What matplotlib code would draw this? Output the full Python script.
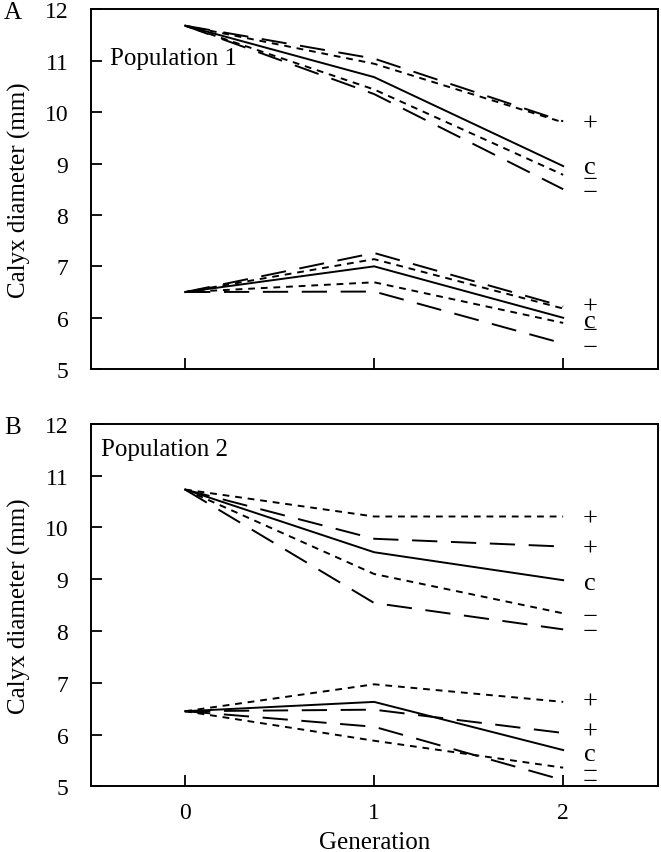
import matplotlib
matplotlib.use('Agg')
import matplotlib.pyplot as plt

plt.rcParams['font.family'] = ['Liberation Serif', 'DejaVu Serif']

generation = [0, 1, 2]

# Population 1 - upper trait group
p1_hi = {
    'up_long': [11.68, 11.04, 9.82],
    'up_short': [11.68, 10.94, 9.80],
    'control': [11.68, 10.68, 8.95],
    'down_short': [11.68, 10.44, 8.78],
    'down_long': [11.68, 10.35, 8.50],
}
# Population 1 - lower trait group
p1_lo = {
    'up_long': [6.50, 7.26, 6.22],
    'up_short': [6.50, 7.14, 6.18],
    'control': [6.50, 7.00, 6.00],
    'down_short': [6.50, 6.69, 5.90],
    'down_long': [6.50, 6.51, 5.50],
}
# Population 2 - upper trait group
p2_hi = {
    'up_short': [10.73, 10.21, 10.21],
    'up_long': [10.73, 9.78, 9.63],
    'control': [10.73, 9.52, 8.98],
    'down_short': [10.73, 9.10, 8.34],
    'down_long': [10.73, 8.54, 8.03],
}
# Population 2 - lower trait group
p2_lo = {
    'up_short': [6.45, 6.97, 6.63],
    'up_long': [6.45, 6.48, 6.03],
    'control': [6.45, 6.63, 5.70],
    'down_short': [6.45, 5.88, 5.36],
    'down_long': [6.45, 6.15, 5.12],
}

# end labels: (text, y)
p1_labels = [('+', 9.78), ('c', 8.93), ('\u2212', 8.68), ('\u2212', 8.42),
             ('+', 6.22), ('c', 5.93), ('\u2212', 5.74), ('\u2212', 5.42)]
p2_labels = [('+', 10.17), ('+', 9.60), ('c', 8.93), ('\u2212', 8.27), ('\u2212', 7.98),
             ('+', 6.64), ('+', 6.05), ('c', 5.63), ('\u2212', 5.27), ('\u2212', 5.08)]

styles = {
    'control': dict(linestyle='-'),
    'up_long': dict(dashes=(13, 7)),
    'down_long': dict(dashes=(13, 7)),
    'up_short': dict(dashes=(3.5, 3)),
    'down_short': dict(dashes=(3.5, 3)),
}

fig = plt.figure(figsize=(6.61, 8.53), dpi=100)
axA = fig.add_axes([0.137, 0.566, 0.858, 0.422])
axB = fig.add_axes([0.137, 0.077, 0.858, 0.425])


def draw(ax, groups, labels, title, title_xy):
    for grp in groups:
        for key, vals in grp.items():
            ax.plot(generation, vals, color='black', linewidth=1.4, **styles[key])
    for txt, y in labels:
        ax.text(2.14, y, txt, fontsize=19, ha='center', va='center')
    ax.set_xlim(-0.5, 2.5)
    ax.set_ylim(5, 12)
    ax.set_xticks(generation)
    ax.set_yticks(range(5, 13))
    ax.tick_params(direction='in', length=8, width=1.3, labelsize=17)
    ax.tick_params(axis='y', pad=16)
    ax.tick_params(axis='x', pad=11)
    for s in ax.spines.values():
        s.set_linewidth(1.4)
    ax.set_ylabel('Calyx diameter (mm)', fontsize=18, labelpad=10)
    ax.text(title_xy[0], title_xy[1], title, transform=ax.transAxes,
            fontsize=18, ha='left', va='center')


draw(axA, [p1_hi, p1_lo], p1_labels, 'Population 1', (0.035, 0.864))
draw(axB, [p2_hi, p2_lo], p2_labels, 'Population 2', (0.018, 0.931))
axA.set_xticklabels([])
axB.set_xlabel('Generation', fontsize=18, labelpad=6)

fig.text(0.019, 0.985, 'A', fontsize=18, ha='center', va='center')
fig.text(0.019, 0.498, 'B', fontsize=18, ha='center', va='center')

fig.savefig('out.png', dpi=100)
